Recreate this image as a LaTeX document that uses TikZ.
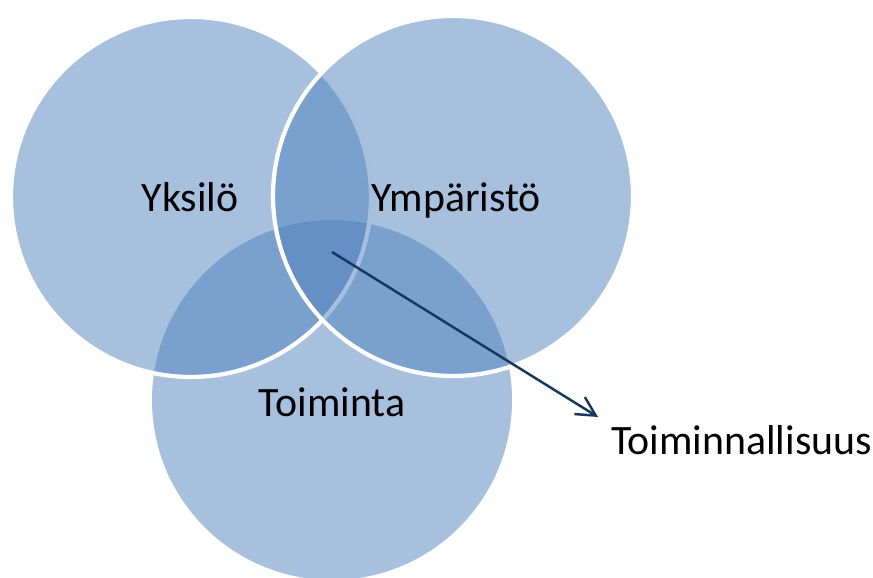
\documentclass[tikz,border=0pt]{standalone}
\usepackage{fontspec}
\setmainfont{Carlito}
\usepackage{tikz}
\usetikzlibrary{arrows.meta}
\definecolor{vennblue}{RGB}{79,129,189}
\definecolor{arrownavy}{RGB}{23,55,94}

\begin{document}
\begin{tikzpicture}[
    venn/.style={fill=vennblue, fill opacity=0.5},
    rim/.style={draw=white, line width=2.4pt},
    venntext/.style={font=\fontsize{23.8}{28}\selectfont, anchor=base}]
  \useasboundingbox (0, 0) rectangle (17.46, 11.56);

  \fill [venn] (6.64, 3.56) circle (3.6cm);
  \draw [venn, rim] (3.82, 7.62) circle (3.6cm);
  \draw [venn, rim] (9.06, 7.64) circle (3.6cm);

  \node [venntext] (yksilo) at (3.8, 7.32) {Yksilö};
  \node [venntext] (ymparisto) at (9.12, 7.32) {Ympäristö};
  \node [venntext] (toiminta) at (6.64, 3.22) {Toiminta};
  \node [venntext] (toiminnallisuus) at (14.83, 2.46) {Toiminnallisuus};

  \coordinate (ydin) at (6.64, 6.52);
  \coordinate (karki) at (11.96, 3.22);
  \draw [-{Straight Barb[length=0.38cm, width=0.4cm]}, arrownavy, line width=1.4pt] (ydin) -- (karki);

\end{tikzpicture}
\end{document}
